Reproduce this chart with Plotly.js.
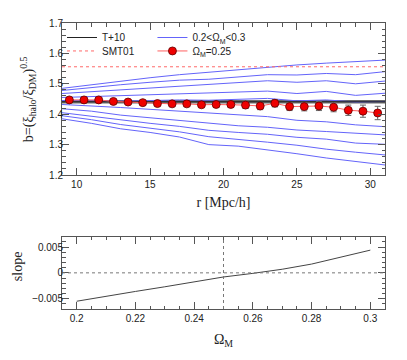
<!DOCTYPE html>
<html>
<head>
<meta charset="utf-8">
<script src="https://cdn.plot.ly/plotly-3.0.1.min.js"></script>
<style>html,body{margin:0;padding:0;background:#fff;}#chart{width:407px;height:360px;}</style>
</head>
<body>
<div id="chart"></div>
<script>
// ---- data ----
const rGrid = [9, 11, 13, 15, 17, 19, 21, 23, 25, 27, 29, 31];
const omegaLabels = ['0.30', '0.29', '0.28', '0.27', '0.26', '0.24', '0.23', '0.22', '0.21', '0.20'];
const biasCurves = [
  [1.485, 1.497, 1.510, 1.520, 1.530, 1.538, 1.548, 1.556, 1.562, 1.568, 1.573, 1.578],
  [1.478, 1.488, 1.497, 1.505, 1.512, 1.515, 1.522, 1.530, 1.529, 1.534, 1.530, 1.540],
  [1.468, 1.474, 1.480, 1.486, 1.490, 1.497, 1.503, 1.510, 1.505, 1.510, 1.500, 1.509],
  [1.455, 1.458, 1.461, 1.464, 1.468, 1.470, 1.474, 1.476, 1.468, 1.475, 1.462, 1.469],
  [1.445, 1.444, 1.443, 1.445, 1.447, 1.446, 1.448, 1.452, 1.444, 1.447, 1.440, 1.442],
  [1.432, 1.428, 1.422, 1.416, 1.410, 1.402, 1.398, 1.392, 1.380, 1.375, 1.365, 1.359],
  [1.418, 1.410, 1.397, 1.388, 1.380, 1.369, 1.362, 1.357, 1.348, 1.343, 1.338, 1.332],
  [1.405, 1.393, 1.380, 1.370, 1.360, 1.347, 1.340, 1.334, 1.324, 1.318, 1.305, 1.301],
  [1.395, 1.382, 1.366, 1.355, 1.342, 1.326, 1.318, 1.308, 1.298, 1.285, 1.275, 1.266],
  [1.385, 1.370, 1.352, 1.340, 1.325, 1.300, 1.295, 1.283, 1.270, 1.256, 1.245, 1.233]
];
const rData = [9.5,10.5,11.5,12.5,13.5,14.5,15.5,16.5,17.5,18.5,19.5,20.5,21.5,22.5,23.5,24.5,25.5,26.5,27.5,28.5,29.5,30.5];
const bData = [1.447,1.447,1.447,1.442,1.440,1.438,1.435,1.434,1.434,1.431,1.432,1.432,1.430,1.427,1.436,1.425,1.425,1.427,1.423,1.413,1.410,1.404];
const bErr  = [0.004,0.004,0.004,0.005,0.005,0.005,0.006,0.006,0.007,0.008,0.009,0.010,0.011,0.012,0.012,0.013,0.014,0.015,0.015,0.017,0.020,0.022];
const tPlus10Range = [9, 31];
const tPlus10Value = 1.441;
const smt01Value = 1.556;
const omegaM = [0.20, 0.21, 0.22, 0.23, 0.24, 0.25, 0.26, 0.27, 0.28, 0.29, 0.30];
const slope  = [-0.0055, -0.0045, -0.0036, -0.0027, -0.0018, -0.0008, -0.0001, 0.0007, 0.0017, 0.0030, 0.0044];
const omegaRef = 0.25;
const slopeRef = 0;

// ---- traces ----
const traces = [];
traces.push({
  x: tPlus10Range, y: [tPlus10Value, tPlus10Value], mode: 'lines',
  line: {color: '#6a6a6a', width: 3.5}, showlegend: false, xaxis: 'x', yaxis: 'y', hoverinfo: 'skip'
});
biasCurves.forEach((c, i) => {
  traces.push({
    x: rGrid, y: c, mode: 'lines', line: {color: 'rgb(100,100,250)', width: 1},
    name: '0.2&lt;Ω<sub>M</sub>&lt;0.3', legend: 'legend2', legendgroup: 'blue',
    showlegend: i === 0, xaxis: 'x', yaxis: 'y', hoverinfo: 'skip'
  });
});
traces.push({
  x: tPlus10Range, y: [tPlus10Value, tPlus10Value], mode: 'lines',
  line: {color: '#222222', width: 1}, name: 'T+10', legend: 'legend', xaxis: 'x', yaxis: 'y'
});
traces.push({
  x: tPlus10Range, y: [smt01Value, smt01Value], mode: 'lines',
  line: {color: '#ff6a6a', width: 1, dash: 'dot'}, name: 'SMT01', legend: 'legend3', xaxis: 'x', yaxis: 'y'
});
traces.push({
  x: rData, y: bData, mode: 'lines+markers',
  line: {color: '#ff6060', width: 1},
  marker: {color: '#ee0000', size: 8, line: {color: '#600000', width: 0.8}},
  error_y: {type: 'data', array: bErr, visible: true, color: '#666666', thickness: 1, width: 3},
  name: 'Ω<sub>M</sub>=0.25', legend: 'legend4', xaxis: 'x', yaxis: 'y'
});
traces.push({
  x: omegaM, y: slope, mode: 'lines', line: {color: '#444444', width: 1},
  showlegend: false, xaxis: 'x2', yaxis: 'y2'
});

const axCommon = {
  ticks: 'inside', ticklen: 7, tickwidth: 1, tickcolor: '#555',
  mirror: 'allticks', showline: true, linecolor: '#555', linewidth: 1,
  showgrid: false, zeroline: false,
  tickfont: {family: 'Liberation Sans, Arial, sans-serif', size: 10, color: '#222'}
};
const minorCommon = {ticks: 'inside', ticklen: 3.5, tickwidth: 1, tickcolor: '#555', showgrid: false};
const titleFont = {family: 'Liberation Serif, Times New Roman, serif', size: 14, color: '#222'};
const legFont = {family: 'Liberation Sans, Arial, sans-serif', size: 10, color: '#222'};
function leg(x, y) {
  return {x: x, y: y, xanchor: 'left', yanchor: 'top', bgcolor: 'rgba(0,0,0,0)',
          font: legFont, itemwidth: 30, tracegroupgap: 0};
}

const layout = {
  width: 407, height: 360,
  margin: {l: 62, r: 22, t: 23, b: 51},
  paper_bgcolor: '#fff', plot_bgcolor: '#fff',
  showlegend: true,
  xaxis: Object.assign({}, axCommon, {
    domain: [0, 1], anchor: 'y', range: [9, 31], dtick: 5, tick0: 0,
    minor: Object.assign({}, minorCommon, {dtick: 1}),
    title: {text: 'r [Mpc/h]', font: titleFont, standoff: 8}
  }),
  yaxis: Object.assign({}, axCommon, {
    domain: [0.4685, 1], anchor: 'x', range: [1.2, 1.7], dtick: 0.1, tick0: 0, tickformat: '.1f',
    ticklabelstandoff: -4,
    minor: Object.assign({}, minorCommon, {dtick: 0.02})
  }),
  xaxis2: Object.assign({}, axCommon, {
    domain: [0, 1], anchor: 'y2', range: [0.195, 0.305], dtick: 0.02, tick0: 0,
    minor: Object.assign({}, minorCommon, {dtick: 0.005}),
    title: {text: 'Ω<sub>M</sub>', font: titleFont, standoff: 11}
  }),
  yaxis2: Object.assign({}, axCommon, {
    domain: [0, 0.2528], anchor: 'x2', range: [-0.007, 0.007], dtick: 0.005, tick0: 0,
    ticklabelstandoff: -4,
    minor: Object.assign({}, minorCommon, {dtick: 0.001})
  }),
  legend: leg(0.0, 1.0),
  legend3: leg(0.0, 0.953),
  legend2: leg(0.28, 1.0),
  legend4: leg(0.28, 0.953),
  annotations: [
    {text: 'b=(ξ<sub>halo</sub>/ξ<sub>DM</sub>)<sup>0.5</sup>', xref: 'paper', yref: 'paper',
     x: -0.105, y: 0.734, xanchor: 'center', yanchor: 'middle', textangle: -90,
     showarrow: false, font: titleFont},
    {text: 'slope', xref: 'paper', yref: 'paper',
     x: -0.139, y: 0.150, xanchor: 'center', yanchor: 'middle', textangle: -90,
     showarrow: false, font: titleFont}
  ],
  shapes: [
    {type: 'line', xref: 'x2', yref: 'y2 domain', x0: omegaRef, x1: omegaRef, y0: 0, y1: 1,
     line: {color: '#777', width: 1, dash: 'dot'}},
    {type: 'line', xref: 'x2 domain', yref: 'y2', x0: 0, x1: 1, y0: slopeRef, y1: slopeRef,
     line: {color: '#777', width: 1, dash: 'dot'}}
  ]
};

Plotly.newPlot('chart', traces, layout, {displayModeBar: false, staticPlot: true});
</script>
</body>
</html>
